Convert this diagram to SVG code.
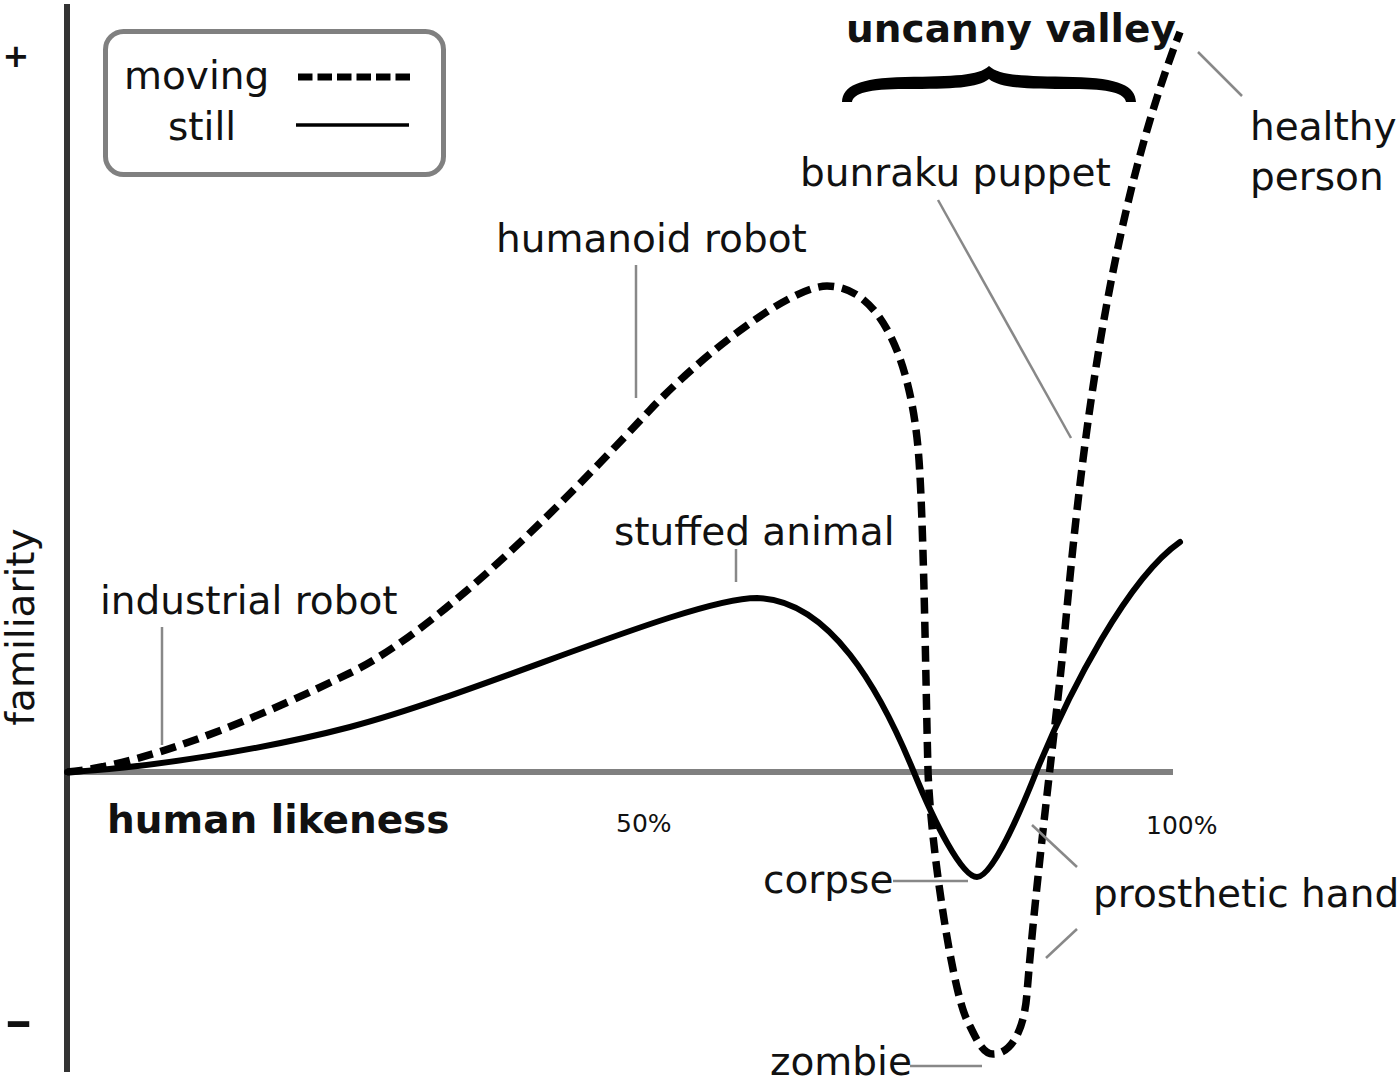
<svg xmlns="http://www.w3.org/2000/svg" width="1400" height="1078" viewBox="0 0 1400 1078">
<style>
text{font-family:"DejaVu Sans","Liberation Sans",sans-serif;font-size:39px;fill:#111}
.b{font-weight:bold}
.s{font-size:25px}
.ptr{stroke:#888;stroke-width:2.5;fill:none}
.still{stroke:#000;stroke-width:6;fill:none;stroke-linecap:round}
.moving{stroke:#000;stroke-width:7.5;fill:none;stroke-dasharray:16 8}
</style>
<rect width="1400" height="1078" fill="#fff"/>
<g id="axes">
<line x1="67" y1="772" x2="1173" y2="772" stroke="#808080" stroke-width="6"/>
<line x1="67" y1="4" x2="67" y2="1072" stroke="#333" stroke-width="6"/>
<text class="b" x="16" y="67" text-anchor="middle" style="font-size:32px">+</text>
<text class="b" transform="translate(18.5,1036) scale(1.75,1)" text-anchor="middle" style="font-size:40px">-</text>
<text transform="translate(34,627) rotate(-90)" text-anchor="middle">familiarity</text>
<text class="b" x="107" y="833">human likeness</text>
<text class="s" x="616" y="832">50%</text>
<text class="s" x="1146" y="834">100%</text>
</g>
<g id="legend">
<rect x="105.5" y="31.5" width="338" height="143" rx="18" fill="#fff" stroke="#808080" stroke-width="5"/>
<text x="124" y="89">moving</text>
<text x="168" y="140">still</text>
<line x1="298" y1="77" x2="410" y2="77" stroke="#000" stroke-width="7" stroke-dasharray="14.5 5"/>
<line x1="296" y1="125" x2="409" y2="125" stroke="#000" stroke-width="3.5"/>
</g>
<g id="curves">
<path id="still-curve" class="still" d="M67,772 C150,768 270,748 350,727 C480,693 690,598 757,598 C830,600 880,690 913,770 C935,824 962,877 977,877 C992,877 1020,813 1037,770 C1070,690 1128,578 1180,542"/>
<path id="moving-curve" class="moving" d="M67,772 C150,765 270,712 350,673 C450,624 590,474 650,410 C700,356.5 790,286 827,286 C880,286 912,360 919,460 C924,531 926,700 928,770 C930,840 952,990 967,1020 C975,1036 982,1054 993,1054 C1010,1054 1024,1033 1027,993 C1036,880 1055,730 1062,660 C1074,540 1095,250 1180,32"/>
</g>
<g id="brace">
<path d="M842,102 C843,86 858,78 905,77 C955,76 978,76 989,66 C1000,76 1023,76 1073,77 C1120,78 1135,86 1136,102 L1126,102 C1124,93 1110,89 1073,89 C1025,89 1000,88 989,79 C978,88 953,89 905,89 C868,89 854,93 852,102 Z" fill="#000"/>
</g>
<g id="connectors">
<line class="ptr" x1="162" y1="627" x2="162" y2="745"/>
<line class="ptr" x1="636" y1="265" x2="636" y2="398"/>
<line class="ptr" x1="736" y1="549" x2="736" y2="582"/>
<line class="ptr" x1="938" y1="200" x2="1071" y2="438"/>
<line class="ptr" x1="1198" y1="52" x2="1242" y2="96"/>
<line class="ptr" x1="1032" y1="825" x2="1077" y2="867"/>
<line class="ptr" x1="1077" y1="929" x2="1046" y2="958"/>
<line class="ptr" x1="893" y1="881" x2="968" y2="881"/>
<line class="ptr" x1="910" y1="1066" x2="982" y2="1066"/>
</g>
<g id="uncanny-valley"><text class="b" x="846" y="42">uncanny valley</text></g>
<g id="industrial-robot"><text x="100" y="614">industrial robot</text></g>
<g id="humanoid-robot"><text x="496" y="252">humanoid robot</text></g>
<g id="stuffed-animal"><text x="614" y="545">stuffed animal</text></g>
<g id="bunraku-puppet"><text x="800" y="186">bunraku puppet</text></g>
<g id="healthy-person"><text x="1250" y="140">healthy</text><text x="1250" y="190">person</text></g>
<g id="corpse"><text x="763" y="893">corpse</text></g>
<g id="prosthetic-hand"><text x="1093" y="907">prosthetic hand</text></g>
<g id="zombie"><text x="770" y="1075">zombie</text></g>
</svg>
